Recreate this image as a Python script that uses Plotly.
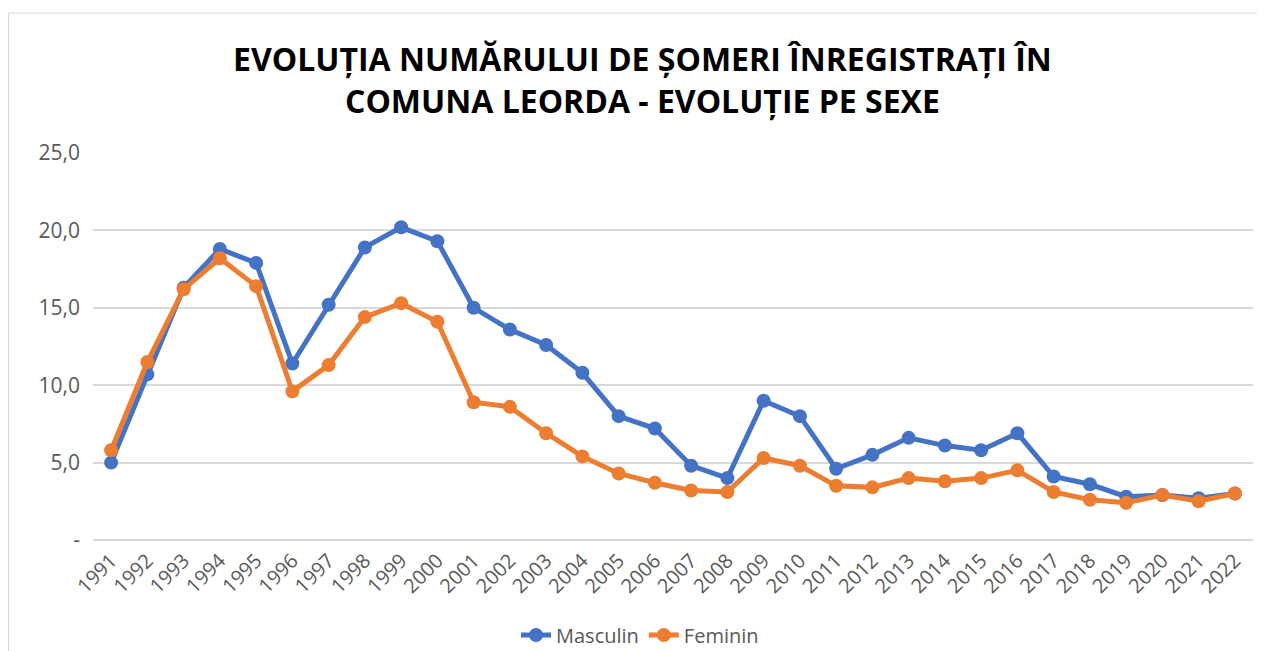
import plotly.graph_objects as go

years = [str(y) for y in range(1991, 2023)]
masculin = [5.0, 10.7, 16.3, 18.8, 17.9, 11.4, 15.2, 18.9, 20.2, 19.3,
            15.0, 13.6, 12.6, 10.8, 8.0, 7.2, 4.8, 4.0, 9.0, 8.0,
            4.6, 5.5, 6.6, 6.1, 5.8, 6.9, 4.1, 3.6, 2.8, 2.9, 2.7, 3.0]
feminin = [5.8, 11.5, 16.2, 18.2, 16.4, 9.6, 11.3, 14.4, 15.3, 14.1,
           8.9, 8.6, 6.9, 5.4, 4.3, 3.7, 3.2, 3.1, 5.3, 4.8,
           3.5, 3.4, 4.0, 3.8, 4.0, 4.5, 3.1, 2.6, 2.4, 2.9, 2.5, 3.0]
y_ticks = [0, 5, 10, 15, 20, 25]
y_ticktext = ["-", "5,0", "10,0", "15,0", "20,0", "25,0"]

title_text = ("EVOLUȚIA NUMĂRULUI DE ȘOMERI ÎNREGISTRAȚI ÎN<br>"
              "COMUNA LEORDA - EVOLUȚIE PE SEXE")

# page has an 8px body margin; work in reference-page pixels and convert.
# The figure extends a little below the visible window so the legend fits
# inside the paper without pushing the margins.
OFF = 8
PAGE_BOTTOM = 690
W, H = 1265 - OFF, PAGE_BOTTOM - OFF
PL, PR, PT, PB = 93, 1253, 153, 540          # plot area in page pixels
ml = PL - OFF
mr = (1265 - PR)
mt = PT - OFF
mb = 0
paper_h = H - mt - mb
paper_w = W - ml - mr


def px_x(x):
    return (x - PL) / paper_w


def px_y(y):
    return (H - (y - OFF)) / paper_h


y_dom0 = px_y(PB)

fig = go.Figure()
fig.add_trace(go.Scatter(x=years, y=masculin, name="Masculin", mode="lines+markers",
                         line=dict(color="#4472C4", width=5),
                         marker=dict(color="#4472C4", size=14)))
fig.add_trace(go.Scatter(x=years, y=feminin, name="Feminin", mode="lines+markers",
                         line=dict(color="#ED7D31", width=5),
                         marker=dict(color="#ED7D31", size=14)))

gray = "#595959"
fig.update_layout(
    width=W, height=H,
    margin=dict(l=ml, r=mr, t=mt, b=mb, pad=0),
    paper_bgcolor="white", plot_bgcolor="white",
    font=dict(family="Open Sans", size=20, color=gray),
    xaxis=dict(type="category", range=[-0.5, len(years) - 0.5],
               tickangle=-45, showgrid=False, showline=False, ticks="",
               automargin=False, ticklabelstandoff=4,
               tickfont=dict(size=20, color=gray)),
    yaxis=dict(range=[0, 25], tickvals=y_ticks, ticktext=y_ticktext,
               domain=[y_dom0, 1], automargin=False,
               showgrid=True, gridcolor="#D9D9D9", gridwidth=1.5,
               zeroline=True, zerolinecolor="#D9D9D9", zerolinewidth=1.5,
               ticks="", ticklabelstandoff=12,
               tickfont=dict(size=21, color=gray)),
    legend=dict(orientation="h", x=px_x(640), xanchor="center",
                y=px_y(635), yanchor="middle",
                font=dict(size=20, color=gray)),
    showlegend=True,
)

title_font = dict(family="Open Sans", size=32, color="black", weight="bold")
fig.add_annotation(text=title_text, xref="paper", yref="paper",
                   x=px_x(642), y=px_y(80), xanchor="center", yanchor="middle",
                   showarrow=False, font=title_font)

# outer chart border
fig.add_shape(type="rect", xref="paper", yref="paper",
              x0=px_x(8.5), x1=px_x(1280),
              y0=px_y(PAGE_BOTTOM - 2), y1=px_y(13),
              line=dict(color="#D9D9D9", width=1.2), fillcolor="rgba(0,0,0,0)",
              layer="below")

fig.write_html("out.html")
